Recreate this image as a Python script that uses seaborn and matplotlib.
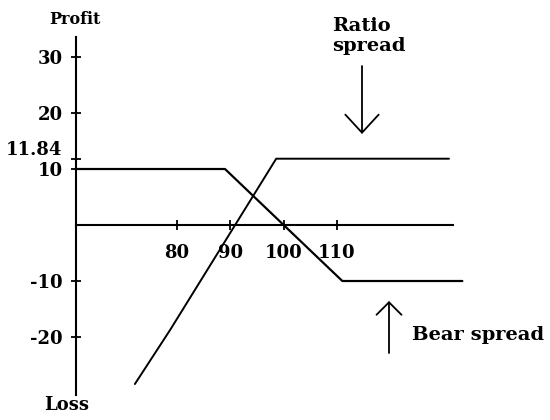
import matplotlib
matplotlib.use("Agg")
import matplotlib.pyplot as plt
import seaborn as sns
import pandas as pd

# ---- data ----
bear_x = [61, 89, 111, 133.5]
bear_y = [10, 10, -10, -10]
ratio_x = [72.1, 78.7, 98.6, 131]
ratio_y = [-28.4, -18.75, 11.84, 11.84]
x_ticks = [80, 90, 100, 110]
x_tick_labels = ["80", "90", "100", "110"]
y_ticks = [30, 20, 11.84, 10, -10, -20]
y_tick_labels = ["30", "20", "11.84", "10", "-10", "-20"]

sns.set_style("white")
plt.rcParams["font.family"] = ["DejaVu Serif", "Liberation Serif"]
plt.rcParams["font.weight"] = "bold"
plt.rcParams["text.color"] = "black"

W, H = 550, 420
fig = plt.figure(figsize=(W / 100, H / 100), dpi=100)
ax = fig.add_axes([0, 0, 1, 1])
ax.set_facecolor("white")

bear = pd.DataFrame({"x": bear_x, "y": bear_y})
ratio = pd.DataFrame({"x": ratio_x, "y": ratio_y})
sns.lineplot(data=bear, x="x", y="y", sort=False, estimator=None,
             color="black", lw=1.6, ax=ax)
sns.lineplot(data=ratio, x="x", y="y", sort=False, estimator=None,
             color="black", lw=1.4, ax=ax)

ax.set_xlim(46.81, 149.94)
ax.set_ylim(-34.82, 40.18)
ax.set_xlabel("")
ax.set_ylabel("")

for s in ["top", "right"]:
    ax.spines[s].set_visible(False)
ax.spines["left"].set_position(("data", 61))
ax.spines["bottom"].set_position(("data", 0))
ax.spines["left"].set_bounds(-30.4, 33.6)
ax.spines["bottom"].set_bounds(61, 131.8)
for s in ["left", "bottom"]:
    ax.spines[s].set_linewidth(1.5)
    ax.spines[s].set_color("black")

ax.set_xticks(x_ticks, x_tick_labels)
ax.set_yticks(y_ticks, y_tick_labels)
ax.tick_params(axis="both", bottom=True, left=True, direction="inout",
               length=7, width=1.3, colors="black", labelsize=13)
ax.tick_params(axis="x", pad=10)
ax.tick_params(axis="y", pad=6)
for lab in ax.get_xticklabels() + ax.get_yticklabels():
    lab.set_fontweight("bold")
for lab in ax.get_yticklabels():
    if lab.get_text() == "11.84":
        lab.set_verticalalignment("bottom")


def fx(px):
    return px / W


def fy(py):
    return 1 - py / H


ax.text(fx(75), fy(19), "Profit", transform=ax.transAxes, ha="center",
        va="center", fontsize=11.5, fontweight="bold", color="black")
ax.text(fx(67), fy(405), "Loss", transform=ax.transAxes, ha="center",
        va="center", fontsize=13, fontweight="bold", color="black")
ax.text(fx(332), fy(36), "Ratio\nspread", transform=ax.transAxes, ha="left",
        va="center", fontsize=14, fontweight="bold", linespacing=1.2,
        color="black")
ax.text(fx(412), fy(335), "Bear spread", transform=ax.transAxes, ha="left",
        va="center", fontsize=14, fontweight="bold", color="black")

ax.annotate("", xy=(fx(362), fy(134)), xytext=(fx(362), fy(66)),
            xycoords="axes fraction", textcoords="axes fraction",
            arrowprops=dict(arrowstyle="->,head_length=0.65,head_width=0.6",
                            color="black", lw=1.3, mutation_scale=20,
                            shrinkA=0, shrinkB=0))
ax.annotate("", xy=(fx(389), fy(301)), xytext=(fx(389), fy(353)),
            xycoords="axes fraction", textcoords="axes fraction",
            arrowprops=dict(arrowstyle="->,head_length=0.45,head_width=0.45",
                            color="black", lw=1.3, mutation_scale=20,
                            shrinkA=0, shrinkB=0))

fig.savefig("out.png", dpi=100, facecolor="white")
